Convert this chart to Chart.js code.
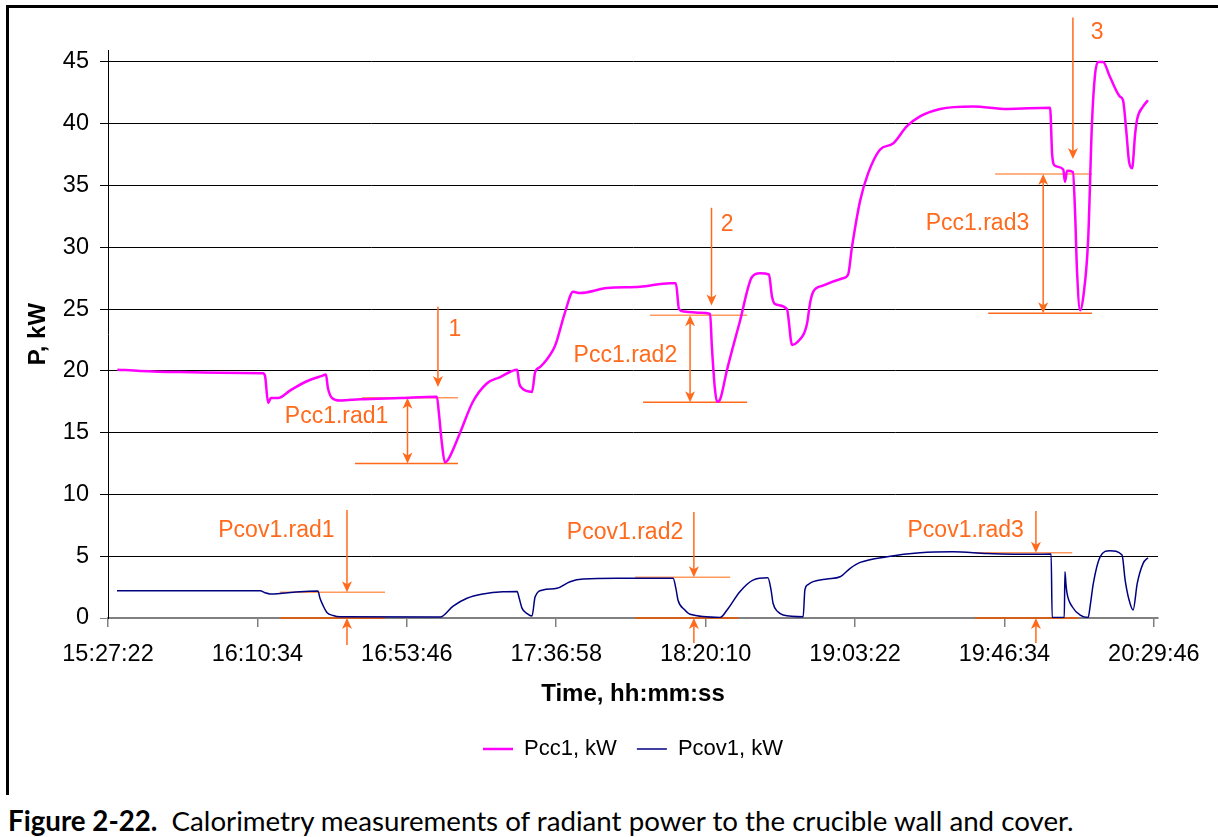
<!DOCTYPE html>
<html>
<head>
<meta charset="utf-8">
<script src="https://cdn.jsdelivr.net/npm/chart.js@4.4.1/dist/chart.umd.min.js"></script>
<style>
  html, body { margin: 0; padding: 0; background: #fff; overflow: hidden; }
  body { width: 1218px; height: 837px; position: relative; }
  #frame {
    position: absolute; left: 6px; top: 5px; width: 1240px; height: 790px;
    border: 3px solid #000; border-bottom: none; box-sizing: border-box;
  }
  #plot { position: absolute; left: 0; top: 0; }
  #caption {
    position: absolute; left: 8px; top: 804px; white-space: nowrap;
    font-family: Lato, "Open Sans", sans-serif; font-size: 27.7px; color: #000;
  }
  #caption b { font-weight: 700; }
</style>
</head>
<body>
<div id="frame"></div>
<canvas id="plot" width="1218" height="800"></canvas>
<div id="caption"><b>Figure 2-22.</b>&nbsp; Calorimetry measurements of radiant power to the crucible wall and cover.</div>
<script>
// minutes after 15:27:22
const pccTime = [2.7, 9.3, 20.8, 32.4, 44.8, 45.4, 46.3, 47.1, 49.2, 52.6,
  57.0, 61.9, 63.0, 63.6, 64.8, 67.1, 72.9, 84.4, 95.1, 95.7,
  96.6, 97.4, 98.3, 101.8, 105.5, 109.6, 113.4, 118.3, 118.9, 119.7,
  122.6, 123.5, 124.9, 128.7, 129.5, 132.1, 134.5, 136.5, 144.3, 153.8,
  162.5, 164.2, 165.1, 166.6, 171.2, 174.1, 174.6, 175.5, 176.1, 177.0,
  179.0, 182.7, 186.2, 188.5, 191.1, 192.0, 192.9, 196.3, 197.8, 199.2,
  202.1, 203.0, 203.9, 206.7, 212.5, 214.0, 215.1, 217.5, 219.8, 223.2,
  227.0, 231.0, 234.8, 240.6, 250.1, 260.0, 272.4, 273.0, 273.8, 276.2,
  276.7, 277.3, 279.0, 279.6, 280.2, 281.1, 282.0, 283.4, 284.5, 285.4,
  286.3, 287.7, 289.7, 292.6, 293.5, 294.4, 295.2, 296.1, 297.0, 297.6,
  299.3, 300.7];
const pccPower = [20.1, 20.0, 19.9, 19.85, 19.8, 19.6, 17.4, 17.8, 17.8, 18.4,
  19.1, 19.6, 19.7, 18.6, 17.8, 17.6, 17.7, 17.8, 17.9, 16.5,
  14.0, 12.6, 12.8, 15.0, 17.5, 19.0, 19.5, 20.1, 19.0, 18.6,
  18.3, 19.9, 20.3, 21.7, 22.2, 24.7, 26.4, 26.3, 26.7, 26.8,
  27.1, 27.1, 25.0, 24.8, 24.7, 24.6, 22.0, 18.5, 17.5, 17.7,
  20.1, 24.0, 27.6, 27.9, 27.8, 26.0, 25.4, 25.0, 22.1, 22.3,
  23.8, 25.5, 26.4, 26.9, 27.5, 27.8, 30.0, 33.8, 36.0, 37.9,
  38.4, 39.8, 40.6, 41.2, 41.4, 41.2, 41.3, 37.5, 36.6, 36.3,
  35.3, 36.2, 36.1, 33.0, 28.0, 24.9, 26.0, 30.6, 40.0, 44.0,
  45.0, 45.0, 43.8, 42.2, 41.9, 39.5, 37.0, 36.4, 39.2, 40.4,
  41.4, 41.9];

const covTime = [2.6, 44.0, 45.4, 46.8, 50.3, 55.5, 60.7, 61.3, 62.2, 63.3,
  65.1, 67.1, 96.0, 99.8, 103.8, 108.4, 114.2, 118.3, 118.9, 119.7,
  121.2, 122.6, 123.5, 125.8, 129.8, 133.6, 137.4, 147.2, 163.4, 164.2,
  164.8, 166.6, 168.3, 177.0, 179.0, 182.7, 186.5, 190.8, 191.7, 192.3,
  193.7, 195.2, 201.0, 201.5, 202.4, 203.9, 207.9, 211.7, 214.6, 217.5,
  225.3, 234.8, 244.3, 254.2, 268.1, 272.7, 273.0, 276.5, 276.7, 277.0,
  277.3, 278.8, 281.1, 283.4, 284.0, 284.9, 286.9, 289.7, 293.2, 294.1,
  295.2, 296.4, 297.6, 299.3, 300.7];
const covPower = [2.2, 2.2, 2.05, 1.95, 2.0, 2.13, 2.18, 1.6, 1.0, 0.45,
  0.2, 0.1, 0.08, 0.97, 1.6, 1.94, 2.13, 2.15, 1.6, 0.8,
  0.35, 0.16, 1.72, 2.27, 2.4, 2.94, 3.16, 3.21, 3.21, 2.4,
  1.46, 0.7, 0.3, 0.05, 0.65, 2.13, 3.07, 3.26, 2.3, 1.19,
  0.5, 0.24, 0.1, 2.27, 2.7, 2.94, 3.16, 3.34, 4.02, 4.5,
  4.96, 5.28, 5.36, 5.23, 5.15, 5.18, 0.05, 0.05, 3.75, 2.7,
  2.0, 0.91, 0.24, 0.05, 1.0, 2.8, 4.96, 5.45, 5.1, 3.07,
  1.5, 0.65, 2.8, 4.42, 4.88];

const timeLabels = ['15:27:22', '16:10:34', '16:53:46', '17:36:58', '18:20:10', '19:03:22', '19:46:34', '20:29:46'];
const powerTicks = [0, 5, 10, 15, 20, 25, 30, 35, 40, 45];

// radiant drop markers on the wall curve (minutes / kW)
const wallMarks = [
  { text: 'Pcc1.rad1', step: '1', arrowX: 95.4, arrowFrom: 25.2, arrowTo: 18.7, stepAt: [100.3, 23.35],
    upper: 17.83, upperFrom: 73.4, lower: 12.5, lowerFrom: 71.4, lineTo: 101.2, spanX: 86.6, textAt: [66.1, 16.3] },
  { text: 'Pcc1.rad2', step: '2', arrowX: 174.5, arrowFrom: 33.2, arrowTo: 25.3, stepAt: [179.0, 31.8],
    upper: 24.5, upperFrom: 156.7, lower: 17.46, lowerFrom: 154.7, lineTo: 184.8, spanX: 168.3, textAt: [149.6, 21.25] },
  { text: 'Pcc1.rad3', step: '3', arrowX: 279.0, arrowFrom: 48.6, arrowTo: 37.15, stepAt: [286.0, 47.35],
    upper: 35.93, upperFrom: 256.5, lower: 24.66, lowerFrom: 254.5, lineTo: 284.5, spanX: 270.4, textAt: [251.4, 31.9] },
];
// radiant drop markers on the cover curve
const coverMarks = [
  { text: 'Pcov1.rad1', x: 69.1, top: 2.08, from: 49.7, to: 80.1, baseTo: 80.1, arrowFrom: 8.74, belowFrom: -2.19, textAt: [48.7, 7.04] },
  { text: 'Pcov1.rad2', x: 169.4, top: 3.29, from: 152.4, to: 179.9, baseTo: 182.2, arrowFrom: 8.58, belowFrom: -2.02, textAt: [149.5, 6.92] },
  { text: 'Pcov1.rad3', x: 268.3, top: 5.28, from: 250.7, to: 278.8, baseTo: 280.5, arrowFrom: 8.66, belowFrom: -2.02, textAt: [248.0, 7.07] },
];

const ORANGE = '#FF6A1C';
const ORANGE_LIGHT = '#FF9A5C';
const ORANGE_DARK = '#D2601A';
const FONT = '"Liberation Sans", Arial, sans-serif';

function toMinutes(label) {
  const [h, m, s] = label.split(':').map(Number);
  return (h * 3600 + m * 60 + s - (15 * 3600 + 27 * 60 + 22)) / 60;
}
const timeTicks = timeLabels.map(toMinutes);

function head(ctx, x, y, dir) {
  ctx.beginPath();
  ctx.moveTo(x, y);
  ctx.lineTo(x - 5, y - dir * 11);
  ctx.lineTo(x, y - dir * 8);
  ctx.lineTo(x + 5, y - dir * 11);
  ctx.closePath();
  ctx.fill();
}

function vline(ctx, x, y0, y1) {
  ctx.beginPath();
  ctx.moveTo(x, y0);
  ctx.lineTo(x, y1);
  ctx.stroke();
}

function hline(ctx, x0, x1, y) {
  ctx.beginPath();
  ctx.moveTo(x0, y);
  ctx.lineTo(x1, y);
  ctx.stroke();
}

const markerPlugin = {
  id: 'markers',
  // keep the legend centred under the plot area rather than the canvas
  afterLayout(chart) {
    const lg = chart.legend;
    const dx = (chart.chartArea.left + chart.chartArea.right) / 2 - (lg.left + lg.right) / 2;
    lg.left += dx;
    lg.right += dx;
  },
  beforeDatasetsDraw(chart) {
    const { ctx } = chart;
    const xs = chart.scales.x, ys = chart.scales.y;
    const px = v => xs.getPixelForValue(v);
    const py = v => ys.getPixelForValue(v);
    ctx.save();
    ctx.font = '23px ' + FONT;
    ctx.textAlign = 'center';
    ctx.textBaseline = 'middle';

    wallMarks.forEach(m => {
      ctx.lineWidth = 1.5;
      ctx.strokeStyle = ORANGE_LIGHT;
      hline(ctx, px(m.upperFrom), px(m.lineTo), py(m.upper));
      ctx.strokeStyle = ORANGE;
      hline(ctx, px(m.lowerFrom), px(m.lineTo), py(m.lower));
      ctx.fillStyle = ORANGE;
      // step arrow pointing down at the plateau
      vline(ctx, px(m.arrowX), py(m.arrowFrom), py(m.arrowTo) - 6);
      head(ctx, px(m.arrowX), py(m.arrowTo), 1);
      // double arrow spanning the drop
      vline(ctx, px(m.spanX), py(m.upper) + 6, py(m.lower) - 6);
      head(ctx, px(m.spanX), py(m.upper), -1);
      head(ctx, px(m.spanX), py(m.lower), 1);
      ctx.fillText(m.step, px(m.stepAt[0]), py(m.stepAt[1]));
      ctx.fillText(m.text, px(m.textAt[0]), py(m.textAt[1]));
    });

    coverMarks.forEach(m => {
      ctx.lineWidth = 1.5;
      ctx.strokeStyle = ORANGE_LIGHT;
      hline(ctx, px(m.from), px(m.to), py(m.top));
      ctx.strokeStyle = ORANGE_DARK;
      ctx.lineWidth = 2;
      hline(ctx, px(m.from), px(m.baseTo), py(0));
      ctx.lineWidth = 1.5;
      ctx.strokeStyle = ORANGE;
      ctx.fillStyle = ORANGE;
      vline(ctx, px(m.x), py(m.arrowFrom), py(m.top) - 6);
      head(ctx, px(m.x), py(m.top), 1);
      vline(ctx, px(m.x), py(m.belowFrom), py(0) + 6);
      head(ctx, px(m.x), py(0), -1);
      ctx.fillText(m.text, px(m.textAt[0]), py(m.textAt[1]));
    });
    ctx.restore();
  },
};

new Chart(document.getElementById('plot'), {
  type: 'line',
  data: {
    datasets: [
      {
        label: 'Pcc1, kW',
        data: pccTime.map((t, i) => ({ x: t, y: pccPower[i] })),
        borderColor: '#FF00FF',
        backgroundColor: '#FF00FF',
        borderWidth: 2.5,
        pointRadius: 0,
        cubicInterpolationMode: 'monotone',
      },
      {
        label: 'Pcov1, kW',
        data: covTime.map((t, i) => ({ x: t, y: covPower[i] })),
        borderColor: '#000080',
        backgroundColor: '#000080',
        borderWidth: 1.5,
        pointRadius: 0,
        cubicInterpolationMode: 'monotone',
      },
    ],
  },
  options: {
    responsive: false,
    animation: false,
    layout: { padding: { left: 0, top: 50, right: 60, bottom: 30 } },
    plugins: {
      tooltip: { enabled: false },
      legend: {
        position: 'bottom',
        labels: {
          usePointStyle: true,
          pointStyle: 'line',
          pointStyleWidth: 30,
          padding: 20,
          color: '#000',
          font: { family: FONT, size: 22 },
        },
      },
    },
    scales: {
      x: {
        type: 'linear',
        min: 0,
        max: 303.6,
        afterFit: s => { s.height = 100; },
        afterBuildTicks: s => { s.ticks = timeTicks.map(v => ({ value: v })); },
        ticks: {
          autoSkip: false,
          maxRotation: 0,
          padding: 13,
          color: '#000',
          font: { family: FONT, size: 23.5 },
          callback: (v, i) => timeLabels[i],
        },
        grid: { drawOnChartArea: false, drawTicks: true, tickLength: 9, color: '#808080', lineWidth: 1.5 },
        border: { color: '#808080', width: 2 },
        title: {
          display: true,
          text: 'Time, hh:mm:ss',
          color: '#000',
          font: { family: FONT, size: 24, weight: 'bold' },
          padding: { top: 0, bottom: 9.6 },
        },
      },
      y: {
        min: 0,
        max: 45.97,
        afterFit: s => { s.width = 108; },
        afterBuildTicks: s => { s.ticks = powerTicks.map(v => ({ value: v })); },
        ticks: {
          padding: 11,
          color: '#000',
          font: { family: FONT, size: 23.5 },
        },
        grid: {
          color: c => (c.tick && c.tick.value === 0 ? '#808080' : '#000'),
          lineWidth: 1,
          tickLength: 8,
        },
        border: { color: '#000', width: 1 },
        title: {
          display: true,
          text: 'P, kW',
          color: '#000',
          font: { family: FONT, size: 24, weight: 'bold' },
          padding: { top: 23.6, bottom: 0 },
        },
      },
    },
  },
  plugins: [markerPlugin],
});
</script>
</body>
</html>
